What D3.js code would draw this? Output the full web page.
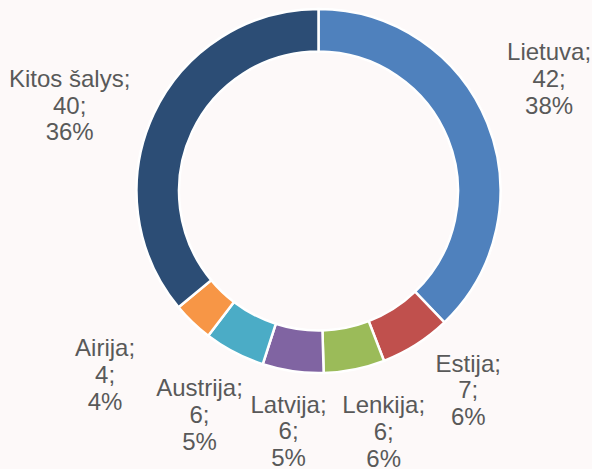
<!DOCTYPE html>
<html>
<head>
<meta charset="utf-8">
<script src="https://cdn.jsdelivr.net/npm/d3@7"></script>
<style>
  html, body { margin: 0; padding: 0; background: #fdf9f9; }
  svg { display: block; }
  .lbl { font-family: "Liberation Sans", Arial, sans-serif; font-size: 24px; fill: #595959; }
</style>
</head>
<body>
<svg width="592" height="469"></svg>
<script>
// data
const countries = ["Lietuva", "Estija", "Lenkija", "Latvija", "Austrija", "Airija", "Kitos šalys"];
const counts = [42, 7, 6, 6, 6, 4, 40];
const shares = ["38%", "6%", "6%", "5%", "5%", "4%", "36%"];
const colors = ["#4f81bd", "#c0504d", "#9bbb59", "#8064a2", "#4bacc6", "#f79646", "#2c4d75"];

const width = 592, height = 469;
const cx = 318.5, cy = 191;
const outerR = 182, innerR = 139.5;
const labelR = 255;
// small label nudges (Excel moves labels to avoid collisions)
const nudge = [[-6, -9], [13, -8], [15, -1], [6, -4], [-1, 6], [-37, 8], [-18, 31]];

const svg = d3.select("svg");
svg.append("rect").attr("width", width).attr("height", height).attr("fill", "#fdf9f9");

const g = svg.append("g").attr("transform", `translate(${cx},${cy})`);

const data = countries.map((c, i) => ({ name: c, value: counts[i], share: shares[i], i }));

const pie = d3.pie().sort(null).value((d) => d.value);
const arc = d3.arc().innerRadius(innerR).outerRadius(outerR);

const arcs = pie(data);

g.selectAll("path")
  .data(arcs)
  .enter()
  .append("path")
  .attr("d", arc)
  .attr("fill", (d) => colors[d.data.i])
  .attr("stroke", "#ffffff")
  .attr("stroke-width", 2.5)
  .attr("stroke-linejoin", "miter");

// labels: name; value; percent on three lines
const lineH = 26.7;
const labels = g.selectAll("text.lbl")
  .data(arcs)
  .enter()
  .append("text")
  .attr("class", "lbl")
  .attr("text-anchor", "middle")
  .attr("transform", (d) => {
    const a = (d.startAngle + d.endAngle) / 2;
    const n = nudge[d.data.i];
    const x = Math.sin(a) * labelR + n[0];
    const y = -Math.cos(a) * labelR + n[1];
    return `translate(${x},${y})`;
  });

labels.each(function (d) {
  const t = d3.select(this);
  const lines = [d.data.name + ";", d.data.value + ";", d.data.share];
  lines.forEach((s, k) => {
    t.append("tspan").attr("x", 0).attr("y", (k - 1) * lineH).text(s);
  });
});
</script>
</body>
</html>
